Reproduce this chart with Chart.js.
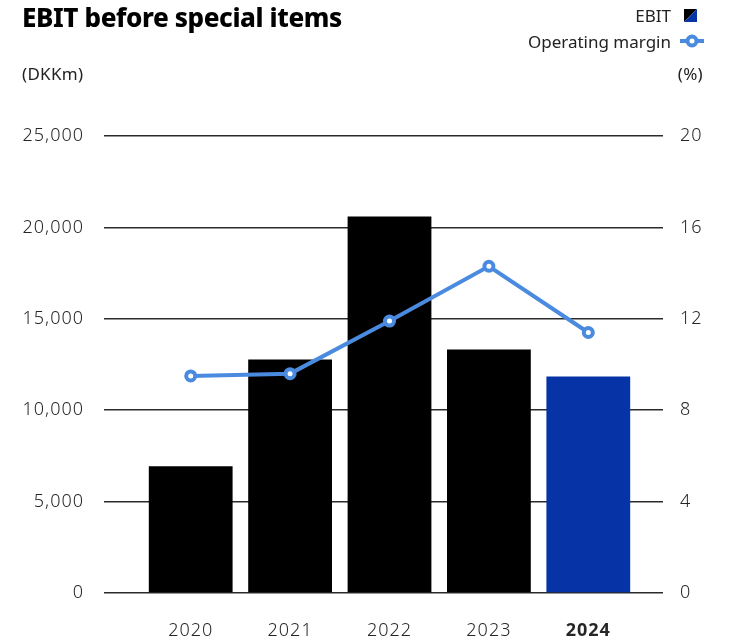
<!DOCTYPE html>
<html>
<head>
<meta charset="utf-8">
<script src="https://cdn.jsdelivr.net/npm/chart.js@4.4.1/dist/chart.umd.min.js"></script>
<style>
  html, body { margin: 0; padding: 0; background: #fff; }
  #wrap { position: relative; width: 731px; height: 638px; overflow: hidden; font-family: "Noto Sans", sans-serif; color: #222; }
  #chart { position: absolute; left: 0; top: 0; }
  .title { position: absolute; left: 22px; top: -1px; font-size: 26px; font-weight: 800; color: #000; letter-spacing: -0.4px; white-space: nowrap; }
  .unit { position: absolute; top: 62px; font-size: 17px; color: #222; letter-spacing: 0.3px; }
  .legend { position: absolute; font-size: 17px; color: #222; display: flex; align-items: center; white-space: nowrap; }
  .legend .sw { display: inline-block; margin-left: 13px; }
</style>
</head>
<body>
<div id="wrap">
  <canvas id="chart" width="731" height="638"></canvas>
  <div class="title">EBIT before special items</div>
  <div class="legend" style="top:4px; right:34px;">EBIT<span class="sw">
    <svg width="13" height="13" viewBox="0 0 13 13"><polygon points="0,0 13,0 0,13" fill="#000"/><polygon points="13,0 13,13 0,13" fill="#0633A6"/></svg></span></div>
  <div class="legend" style="top:30px; right:27px;">Operating margin<span class="sw" style="margin-left:9px;">
    <svg width="24" height="14" viewBox="0 0 24 14"><line x1="0" y1="7" x2="24" y2="7" stroke="#4A8BE0" stroke-width="4"/><circle cx="12" cy="7" r="4.5" fill="#fff" stroke="#4A8BE0" stroke-width="4"/></svg></span></div>
  <div class="unit" style="left:22px;">(DKKm)</div>
  <div class="unit" style="right:28px;">(%)</div>
</div>
<script>
// Years on the category axis
const years = ['2020', '2021', '2022', '2023', '2024'];
// EBIT before special items, DKKm
const ebit = [6940, 12780, 20600, 13320, 11850];
// Operating margin, %
const margin = [9.5, 9.6, 11.9, 14.3, 11.4];
// Axis tick ranges
const ebitTicks = { min: 0, max: 25000, step: 5000 };
const marginTicks = { min: 0, max: 20, step: 4 };

const BLACK = '#000000';
const HIGHLIGHT = '#0633A6';
const LINE = '#4A8BE0';
const GRID = '#2b2b2b';
const TEXT = '#262626';

const lastIdx = years.length - 1;

// Slightly wider tracking for the axis numbers
const tracking = {
  id: 'tracking',
  beforeLayout(chart) { chart.ctx.letterSpacing = '1px'; },
  beforeDraw(chart) { chart.ctx.letterSpacing = '1px'; }
};

const tickFont = { family: 'Noto Sans', size: 18, weight: 300 };

new Chart(document.getElementById('chart'), {
  data: {
    labels: years,
    datasets: [
      {
        type: 'line',
        label: 'Operating margin',
        data: margin,
        yAxisID: 'yRight',
        order: 0,
        borderColor: LINE,
        borderWidth: 4,
        pointRadius: 4.5,
        pointBorderWidth: 4,
        pointBackgroundColor: '#ffffff',
        pointBorderColor: LINE,
        tension: 0
      },
      {
        type: 'bar',
        label: 'EBIT',
        data: ebit,
        yAxisID: 'yLeft',
        order: 1,
        backgroundColor: years.map((_, i) => i === lastIdx ? HIGHLIGHT : BLACK),
        categoryPercentage: 1,
        barPercentage: 0.843
      }
    ]
  },
  plugins: [tracking],
  options: {
    responsive: false,
    animation: false,
    events: [],
    layout: { padding: { top: 136, left: 0, right: 0, bottom: 0 } },
    plugins: { legend: { display: false }, tooltip: { enabled: false }, title: { display: false } },
    scales: {
      x: {
        grid: { display: false, drawTicks: false, tickLength: 0 },
        border: { display: false },
        ticks: {
          padding: 27,
          color: TEXT,
          font: (ctx) => ctx.index === lastIdx ? { family: 'Noto Sans', size: 18, weight: 'bold' } : tickFont
        },
        afterFit: (s) => { s.height = 45; }
      },
      yLeft: {
        position: 'left',
        min: ebitTicks.min,
        max: ebitTicks.max,
        border: { display: false },
        grid: { color: GRID, lineWidth: 1.5, drawTicks: true, tickLength: 37, tickColor: GRID },
        ticks: {
          stepSize: ebitTicks.step,
          padding: 20,
          color: TEXT,
          font: tickFont,
          callback: (v) => Number(v).toLocaleString('en-US')
        },
        afterFit: (s) => { s.width = 141; }
      },
      yRight: {
        position: 'right',
        min: marginTicks.min,
        max: marginTicks.max,
        border: { display: false },
        grid: { drawOnChartArea: false, color: GRID, lineWidth: 1.5, drawTicks: true, tickLength: 25, tickColor: GRID },
        ticks: {
          stepSize: marginTicks.step,
          padding: 17,
          color: TEXT,
          font: tickFont
        },
        afterFit: (s) => { s.width = 93; }
      }
    }
  }
});
</script>
</body>
</html>
